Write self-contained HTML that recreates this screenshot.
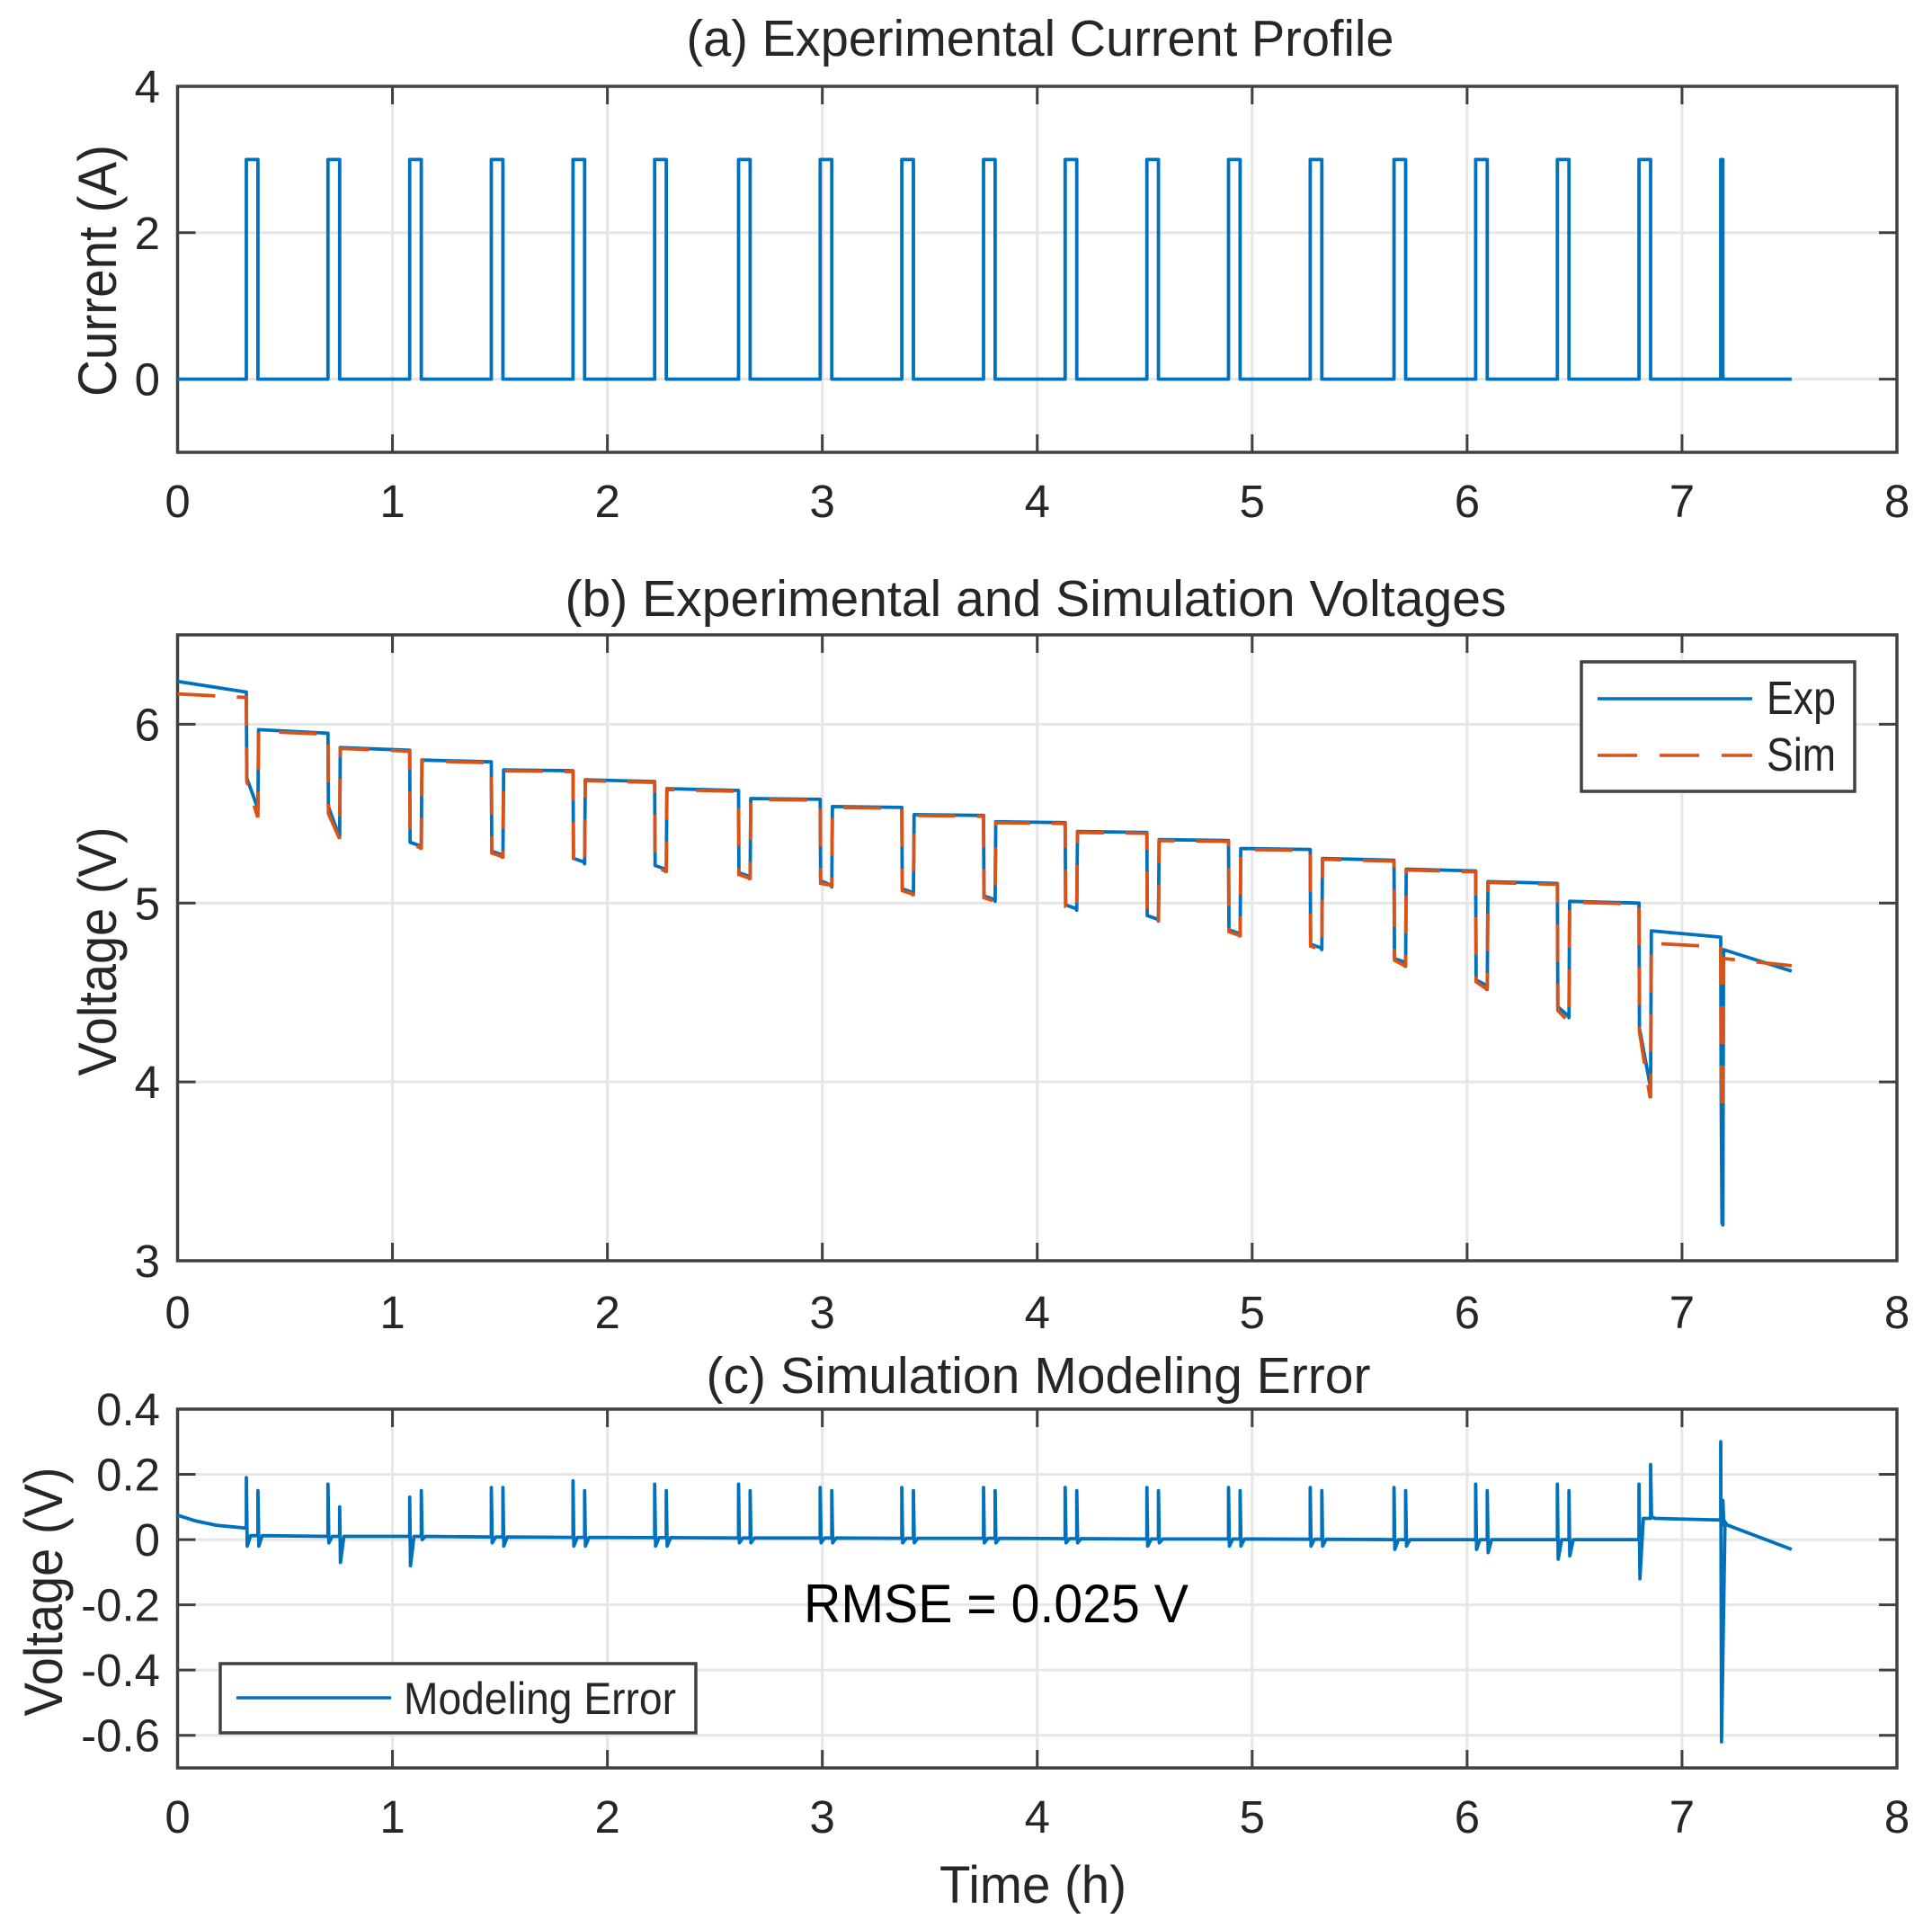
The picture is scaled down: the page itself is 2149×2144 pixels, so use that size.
<!DOCTYPE html>
<html><head><meta charset="utf-8"><title>Current, Voltage and Modeling Error</title>
<style>html,body{margin:0;padding:0;background:#fff}svg{display:block}text{font-family:"Liberation Sans",Arial,sans-serif;fill:#262626}</style></head>
<body>
<svg id="chart" width="2149" height="2144" viewBox="0 0 2149 2144" xmlns="http://www.w3.org/2000/svg">
<g id="gA"></g>
<g id="gB"></g>
<g id="gC"></g>
</svg>
<script>
// ---- data ----
const xTicks = [0,1,2,3,4,5,6,7,8];
const yTicksA = [0,2,4];
const yTicksB = [3,4,5,6];
const yTicksC = [-0.6,-0.4,-0.2,0,0.2,0.4];
const yTickLabelsC = ["-0.6","-0.4","-0.2","0","0.2","0.4"];
const pulseStart = [0.32,0.70,1.08,1.46,1.84,2.22,2.61,2.99,3.37,3.75,4.13,4.51,4.89,5.27,5.66,6.04,6.42,6.80,7.18];
const pulseEnd   = [0.374,0.754,1.134,1.514,1.894,2.274,2.664,3.044,3.424,3.804,4.184,4.564,4.944,5.324,5.714,6.094,6.474,6.854,7.19];
const pulseCurrent = [3,3,3,3,3,3,3,3,3,3,3,3,3,3,3,3,3,3,3];
const endTime = 7.51;
// experimental voltage
const expInit = [6.24, 6.18];
const expPulseMid = [5.70,5.54,5.34,5.29,5.25,5.21,5.17,5.125,5.08,5.04,4.99,4.93,4.85,4.77,4.69,4.57,4.42,4.30,4.00];
const expPulseMin = [5.53,5.37,5.31,5.26,5.22,5.18,5.14,5.09,5.05,5.01,4.96,4.90,4.82,4.74,4.66,4.53,4.36,3.98,3.20];
const expRestHi = [5.97,5.87,5.80,5.745,5.69,5.64,5.585,5.54,5.495,5.455,5.40,5.355,5.305,5.25,5.19,5.12,5.01,4.845,4.74];
const expRestLo = [5.95,5.855,5.79,5.74,5.68,5.63,5.58,5.535,5.49,5.45,5.395,5.35,5.30,5.24,5.18,5.11,5.00,4.81,4.62];
// simulated voltage
const simInit = [6.17, 6.15];
const simPulseMid = [5.68,5.50,5.33,5.28,5.24,5.20,5.16,5.11,5.07,5.03,4.98,4.92,4.84,4.76,4.68,4.56,4.40,4.28,4.10];
const simPulseMin = [5.48,5.36,5.30,5.25,5.21,5.17,5.13,5.09,5.04,5.00,4.95,4.89,4.81,4.73,4.64,4.51,4.33,3.91,3.82];
const simRestHi = [5.96,5.865,5.795,5.74,5.685,5.635,5.58,5.535,5.49,5.45,5.395,5.35,5.30,5.245,5.185,5.115,5.005,4.775,4.69];
const simRestLo = [5.945,5.85,5.785,5.735,5.675,5.625,5.575,5.53,5.485,5.445,5.39,5.345,5.295,5.235,5.175,5.105,4.995,4.755,4.65];
// modeling error
const errInitT = [0, 0.08, 0.18, 0.32];
const errInit = [0.075, 0.058, 0.044, 0.035];
const errUp  = [0.19,0.17,0.13,0.16,0.18,0.17,0.17,0.16,0.16,0.16,0.16,0.16,0.16,0.16,0.16,0.17,0.17,0.17,0.30];
const errDn  = [-0.02,-0.01,-0.08,-0.01,-0.02,-0.02,-0.01,-0.01,-0.01,-0.01,-0.01,-0.02,-0.02,-0.02,-0.03,-0.03,-0.06,-0.12,-0.62];
const errUp2 = [0.15,0.10,0.15,0.16,0.15,0.15,0.15,0.15,0.15,0.15,0.15,0.15,0.15,0.15,0.15,0.15,0.15,0.23,0.12];
const errDn2 = [-0.02,-0.07,0.0,-0.02,-0.02,-0.02,-0.01,-0.01,-0.01,-0.01,-0.01,-0.01,-0.02,-0.02,-0.02,-0.04,-0.05,0.07,0.06];
const errBaseHi = [0.012,0.01,0.01,0.008,0.007,0.006,0.005,0.005,0.004,0.004,0.003,0.002,0.002,0.001,0.0,0.0,0.0,0.065,0.045];
const errBaseLo = [0.01,0.01,0.008,0.007,0.006,0.005,0.005,0.004,0.004,0.003,0.002,0.002,0.001,0.0,0.0,0.0,0.0,0.06,-0.03];

// ---- layout ----
const NS = "http://www.w3.org/2000/svg";
const X0 = 197.5, X1 = 2110;
const LW = 3.8;
const xs = t => X0 + (t/8)*(X1-X0);
const panels = {
  A:{top:96,bot:503,min:-1,max:4},
  B:{top:706,bot:1402,min:3,max:6.5},
  C:{top:1567,bot:1966,min:-0.7,max:0.4}
};
function ys(p,v){const P=panels[p];return P.bot-(v-P.min)/(P.max-P.min)*(P.bot-P.top);}
function mk(tag,attrs,parent){const e=document.createElementNS(NS,tag);for(const k in attrs)e.setAttribute(k,attrs[k]);parent.appendChild(e);return e;}
function txt(parent,s,attrs){const e=mk('text',attrs,parent);e.textContent=s;return e;}

function axes(p,g,yt,ytl,xLabelBase){
  const P=panels[p];
  for(const t of xTicks){ if(t>0&&t<8){const l=mk('line',{x1:xs(t),x2:xs(t),y1:P.top,y2:P.bot,stroke:'#e6e6e6','stroke-width':3},g);
    
    }}
  yt.forEach(v=>{const y=ys(p,v); if(y>P.top+2&&y<P.bot-2){const l=mk('line',{x1:X0,x2:X1,y1:y,y2:y,stroke:'#e6e6e6','stroke-width':3},g);
    
    }});
  const box=mk('rect',{x:X0,y:P.top,width:X1-X0,height:P.bot-P.top,fill:'none',stroke:'#404040','stroke-width':3.5},g);
  
  
  for(const t of xTicks){
    mk('line',{x1:xs(t),x2:xs(t),y1:P.bot,y2:P.bot-20,stroke:'#404040','stroke-width':3},g);
    mk('line',{x1:xs(t),x2:xs(t),y1:P.top,y2:P.top+20,stroke:'#404040','stroke-width':3},g);
    const tl=txt(g,String(t),{x:xs(t),y:xLabelBase,'font-size':51,'text-anchor':'middle'});
    
    
  }
  yt.forEach((v,i)=>{const y=ys(p,v);
    mk('line',{x1:X0,x2:X0+20,y1:y,y2:y,stroke:'#404040','stroke-width':3},g);
    mk('line',{x1:X1,x2:X1-20,y1:y,y2:y,stroke:'#404040','stroke-width':3},g);
    const tl=txt(g,ytl?ytl[i]:String(v),{x:178,y:y+18,'font-size':51,'text-anchor':'end'});
    
    
  });
}
function pathD(p,pts){return pts.map((q,i)=>(i?'L':'M')+xs(q[0]).toFixed(1)+','+ys(p,q[1]).toFixed(1)).join(' ');}

// ---- Panel A ----
const gA=document.getElementById('gA');
axes('A',gA,yTicksA,null,575);
{
  const pts=[[0,0]];
  pulseStart.forEach((s,i)=>{pts.push([s,0],[s,pulseCurrent[i]],[pulseEnd[i],pulseCurrent[i]],[pulseEnd[i],0]);});
  pts.push([endTime,0]);
  const l=mk('path',{d:pathD('A',pts),fill:'none',stroke:'#0072BD','stroke-width':LW,'stroke-linejoin':'round'},gA);
  
  
}
let t=txt(gA,'(a) Experimental  Current  Profile',{x:1157,y:62,'font-size':57,'text-anchor':'middle',textLength:787,lengthAdjust:'spacingAndGlyphs'});


t=txt(gA,'Current (A)',{x:0,y:0,'font-size':60,'text-anchor':'middle',textLength:280,lengthAdjust:'spacingAndGlyphs',transform:'translate(129,301) rotate(-90)'});



// ---- Panel B ----
const gB=document.getElementById('gB');
axes('B',gB,yTicksB,null,1477);
function voltPts(init,mid,mn,hi,lo){
  const pts=[[0,init[0]],[pulseStart[0],init[1]]];
  pulseStart.forEach((s,i)=>{
    const e=pulseEnd[i];
    pts.push([s+0.002,mid[i]],[e-0.004,mn[i]+0.01],[e,mn[i]],[e+0.003,hi[i]]);
    const next = i<pulseStart.length-1 ? pulseStart[i+1] : endTime;
    pts.push([next,lo[i]]);
  });
  return pts;
}
{
  const l=mk('path',{d:pathD('B',voltPts(expInit,expPulseMid,expPulseMin,expRestHi,expRestLo)),fill:'none',stroke:'#0072BD','stroke-width':LW,'stroke-linejoin':'round'},gB);
  
  
  const s=mk('path',{d:pathD('B',voltPts(simInit,simPulseMid,simPulseMin,simRestHi,simRestLo)),fill:'none',stroke:'#D95319','stroke-width':LW,'stroke-dasharray':'42 24'},gB);
  
  
}
{
  const lg=mk('g',{},gB);
  
  
  mk('rect',{x:1759,y:736,width:304,height:144,fill:'#fff',stroke:'#404040','stroke-width':3.5},lg);
  mk('line',{x1:1777,x2:1949,y1:777,y2:777,stroke:'#0072BD','stroke-width':3.6},lg);
  mk('line',{x1:1777,x2:1949,y1:840,y2:840,stroke:'#D95319','stroke-width':3.6,'stroke-dasharray':'44 25'},lg);
  let a=txt(lg,'Exp',{x:1965,y:794,'font-size':52,textLength:77,lengthAdjust:'spacingAndGlyphs'});
  
  
  a=txt(lg,'Sim',{x:1965,y:857,'font-size':52,textLength:77,lengthAdjust:'spacingAndGlyphs'});
  
  
}
t=txt(gB,'(b) Experimental and Simulation Voltages',{x:1152,y:685,'font-size':57,'text-anchor':'middle',textLength:1047,lengthAdjust:'spacingAndGlyphs'});


t=txt(gB,'Voltage (V)',{x:0,y:0,'font-size':60,'text-anchor':'middle',textLength:277,lengthAdjust:'spacingAndGlyphs',transform:'translate(129,1058) rotate(-90)'});



// ---- Panel C ----
const gC=document.getElementById('gC');
axes('C',gC,yTicksC,yTickLabelsC,2038);
{
  const pts=errInitT.map((tt,i)=>[tt,errInit[i]]);
  pulseStart.forEach((s,i)=>{
    const e=pulseEnd[i];
    pts.push([s,errUp[i]],[s+0.004,errDn[i]],[s+0.02,errBaseHi[i]],[e,errBaseHi[i]],[e,errUp2[i]],[e+0.004,errDn2[i]],[e+0.02,errBaseHi[i]]);
    const next = i<pulseStart.length-1 ? pulseStart[i+1] : endTime;
    pts.push([next,errBaseLo[i]]);
  });
  const l=mk('path',{d:pathD('C',pts),fill:'none',stroke:'#0072BD','stroke-width':LW,'stroke-linejoin':'round'},gC);
  
  
}
{
  const lg=mk('g',{},gC);
  
  
  mk('rect',{x:245,y:1850,width:529,height:77,fill:'#fff',stroke:'#404040','stroke-width':3.5},lg);
  mk('line',{x1:263,x2:435,y1:1888,y2:1888,stroke:'#0072BD','stroke-width':3.6},lg);
  const a=txt(lg,'Modeling Error',{x:449,y:1906,'font-size':50,textLength:303,lengthAdjust:'spacingAndGlyphs'});
  
  
}
t=txt(gC,'RMSE = 0.025 V',{x:1108,y:1804,'font-size':60,'text-anchor':'middle',textLength:428,lengthAdjust:'spacingAndGlyphs',style:'fill:#000'});


t=txt(gC,'(c) Simulation Modeling Error',{x:1155,y:1549,'font-size':57,'text-anchor':'middle',textLength:739,lengthAdjust:'spacingAndGlyphs'});


t=txt(gC,'Voltage (V)',{x:0,y:0,'font-size':60,'text-anchor':'middle',textLength:277,lengthAdjust:'spacingAndGlyphs',transform:'translate(69,1770) rotate(-90)'});


t=txt(gC,'Time (h)',{x:1149,y:2116,'font-size':58,'text-anchor':'middle',textLength:208,lengthAdjust:'spacingAndGlyphs'});


</script>
</body></html>
